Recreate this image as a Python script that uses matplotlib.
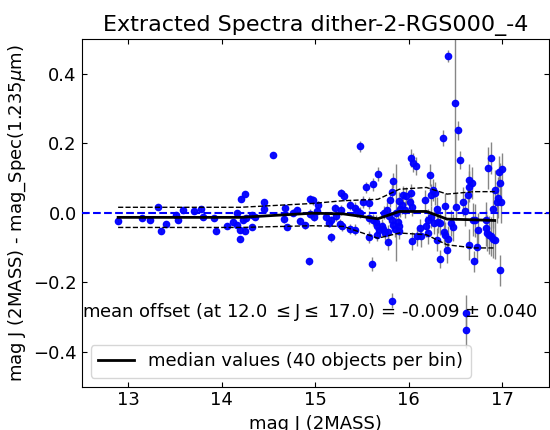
import numpy as np
import matplotlib.pyplot as plt

# 2MASS J magnitude of each star
mag_j = [
    12.89, 13.15, 13.23, 13.32, 13.35, 13.40, 13.51, 13.53, 13.58, 13.70,
    13.78, 13.80, 13.92, 13.94, 14.06, 14.12, 14.16, 14.16, 14.19, 14.19,
    14.21, 14.23, 14.25, 14.25, 14.26, 14.32, 14.32, 14.36, 14.45, 14.45,
    14.55, 14.66, 14.68, 14.70, 14.76, 14.80, 14.84, 14.89, 14.93, 14.94,
    14.94, 14.98, 14.99,
    15.02, 15.03, 15.11, 15.15, 15.17, 15.17, 15.21, 15.22, 15.26, 15.27,
    15.28, 15.29, 15.31, 15.37, 15.37, 15.43, 15.43, 15.45, 15.48, 15.48,
    15.51, 15.54, 15.58, 15.58, 15.58, 15.61, 15.62, 15.62, 15.65, 15.66,
    15.66, 15.67, 15.68, 15.71, 15.72, 15.74, 15.75, 15.77, 15.78, 15.78,
    15.79, 15.80, 15.82, 15.82, 15.82, 15.83, 15.83, 15.85, 15.86, 15.89,
    15.90, 15.90, 15.90, 15.91, 15.93, 15.94, 15.96, 15.97,
    16.01, 16.02, 16.02, 16.03, 16.03, 16.05, 16.08, 16.09, 16.12, 16.13,
    16.17, 16.19, 16.21, 16.21, 16.23, 16.24, 16.24, 16.26, 16.27, 16.28,
    16.30, 16.30, 16.31, 16.33, 16.33, 16.37, 16.38, 16.39, 16.39, 16.41,
    16.42, 16.42, 16.45, 16.47, 16.49,
    16.51, 16.53, 16.55, 16.58, 16.60, 16.61, 16.61, 16.63, 16.64, 16.64,
    16.65, 16.68, 16.69, 16.70, 16.71, 16.73, 16.74, 16.83, 16.83, 16.84,
    16.85, 16.86, 16.88, 16.88, 16.90, 16.90, 16.92, 16.92, 16.94, 16.96,
    16.97, 16.98, 16.98, 16.99, 17.00,
]

# mag J (2MASS) - mag from spectrum
offset = [
    -0.023, -0.015, -0.021, 0.016, -0.052, -0.032, -0.006, -0.020, 0.009, 0.005,
    0.012, -0.012, -0.016, -0.051, -0.037, -0.027, 0.000, -0.034, -0.050, -0.075,
    0.040, -0.020, 0.055, -0.052, -0.016, -0.040, -0.007, -0.012, 0.032, 0.012,
    0.166, -0.019, 0.014, -0.040, 0.001, 0.007, -0.024, -0.036, -0.140, 0.040,
    -0.002, 0.036, -0.012,
    0.004, 0.023, -0.013, -0.028, -0.022, -0.070, 0.013, -0.009, -0.032, 0.056,
    0.009, -0.037, 0.049, 0.023, -0.046, 0.014, -0.049, 0.004, 0.192, 0.001,
    0.032, 0.073, 0.028, -0.014, -0.070, -0.146, 0.082, -0.020, -0.025, -0.037,
    -0.063, 0.112, -0.049, -0.037, -0.047, 0.001, -0.058, 0.009, -0.056, -0.085,
    -0.009, 0.037, 0.061, -0.020, -0.253, 0.093, -0.034, -0.047, 0.000, -0.025,
    0.035, -0.039, -0.051, 0.011, 0.023, 0.052, 0.009, 0.049,
    0.030, 0.058, 0.157, 0.018, -0.082, 0.144, 0.135, -0.068, -0.045, -0.068,
    0.037, -0.039, -0.020, -0.058, 0.109, -0.011, 0.052, 0.066, -0.028, 0.056,
    0.011, -0.077, -0.025, -0.030, -0.133, 0.216, -0.054, 0.020, -0.063, -0.106,
    -0.075, 0.451, -0.030, -0.041, 0.316,
    0.018, 0.238, 0.152, 0.032, 0.004, -0.287, -0.338, 0.052, 0.095, -0.092,
    0.075, 0.085, -0.020, -0.140, -0.022, -0.097, -0.049, -0.020, -0.044, -0.058,
    0.130, -0.063, 0.158, -0.068, 0.011, -0.075, -0.077, 0.066, 0.030, 0.044,
    0.118, 0.085, -0.165, 0.030, 0.127,
]

offset_err = [
    0.005, 0.005, 0.005, 0.005, 0.005, 0.005, 0.005, 0.005, 0.005, 0.005,
    0.006, 0.006, 0.006, 0.006, 0.006, 0.006, 0.006, 0.006, 0.007, 0.007,
    0.007, 0.007, 0.007, 0.007, 0.007, 0.007, 0.007, 0.007, 0.008, 0.008,
    0.008, 0.009, 0.009, 0.009, 0.010, 0.010, 0.010, 0.010, 0.010, 0.012,
    0.012, 0.012, 0.012,
    0.012, 0.012, 0.012, 0.013, 0.013, 0.013, 0.013, 0.014, 0.014, 0.014,
    0.014, 0.014, 0.015, 0.015, 0.015, 0.016, 0.016, 0.016, 0.016, 0.016,
    0.017, 0.017, 0.018, 0.018, 0.018, 0.020, 0.018, 0.018, 0.019, 0.019,
    0.019, 0.019, 0.019, 0.020, 0.020, 0.020, 0.020, 0.021, 0.021, 0.021,
    0.021, 0.021, 0.022, 0.022, 0.022, 0.022, 0.022, 0.023, 0.140, 0.023,
    0.024, 0.024, 0.024, 0.024, 0.025, 0.025, 0.025, 0.025,
    0.026, 0.026, 0.026, 0.026, 0.026, 0.027, 0.027, 0.028, 0.028, 0.029,
    0.030, 0.030, 0.031, 0.031, 0.031, 0.032, 0.032, 0.032, 0.033, 0.033,
    0.034, 0.034, 0.034, 0.035, 0.025, 0.023, 0.036, 0.036, 0.036, 0.037,
    0.037, 0.018, 0.038, 0.039, 0.300,
    0.040, 0.027, 0.025, 0.042, 0.043, 0.050, 0.050, 0.044, 0.045, 0.045,
    0.045, 0.046, 0.047, 0.030, 0.048, 0.048, 0.049, 0.052, 0.052, 0.053,
    0.060, 0.054, 0.045, 0.055, 0.056, 0.056, 0.057, 0.057, 0.058, 0.058,
    0.045, 0.059, 0.045, 0.060, 0.045,
]

# running median and its spread (40 objects per bin)
bin_mag = [12.89, 14.20, 14.97, 15.30, 15.67, 15.90, 16.19, 16.41, 16.70, 16.92]
bin_median = [-0.013, -0.013, -0.001, -0.003, -0.017, 0.004, 0.004, -0.018, -0.020, -0.022]
bin_upper = [0.016, 0.016, 0.027, 0.035, 0.039, 0.068, 0.073, 0.054, 0.061, 0.061]
bin_lower = [-0.042, -0.042, -0.037, -0.039, -0.073, -0.058, -0.063, -0.092, -0.101, -0.101]

fig = plt.figure(figsize=(5.5, 4.3), dpi=100)
ax = fig.add_axes([0.1485, 0.101, 0.8495, 0.808])

ax.errorbar(mag_j, offset, yerr=offset_err, fmt='o', color='b', ms=4.5,
            ecolor='gray', elinewidth=1, alpha=0.95, zorder=2)
ax.axhline(0, color='b', ls='--', lw=1.5, zorder=3)
ax.plot(bin_mag, bin_median, 'k-', lw=2, label='median values (40 objects per bin)', zorder=4)
ax.plot(bin_mag, bin_upper, 'k--', lw=1, zorder=4)
ax.plot(bin_mag, bin_lower, 'k--', lw=1, zorder=4)

ax.text(12.5, -0.3, 'mean offset (at 12.0 $\\leq$J$\\leq$ 17.0) = -0.009 $\\pm$ 0.040', fontsize=13)

ax.set_xlim(12.5, 17.5)
ax.set_ylim(-0.5, 0.5)
ax.set_xticks([13, 14, 15, 16, 17])
ax.set_yticks([-0.4, -0.2, 0.0, 0.2, 0.4])
ax.tick_params(direction='in', top=True, right=True, labelsize=13)
ax.set_xlabel('mag J (2MASS)', fontsize=13)
ax.set_ylabel('mag J (2MASS) - mag_Spec(1.235$\\mu$m)', fontsize=13)
ax.set_title('Extracted Spectra dither-2-RGS000_-4', fontsize=16)
ax.legend(loc='lower left', fontsize=13)

fig.savefig('out.png', dpi=100)
